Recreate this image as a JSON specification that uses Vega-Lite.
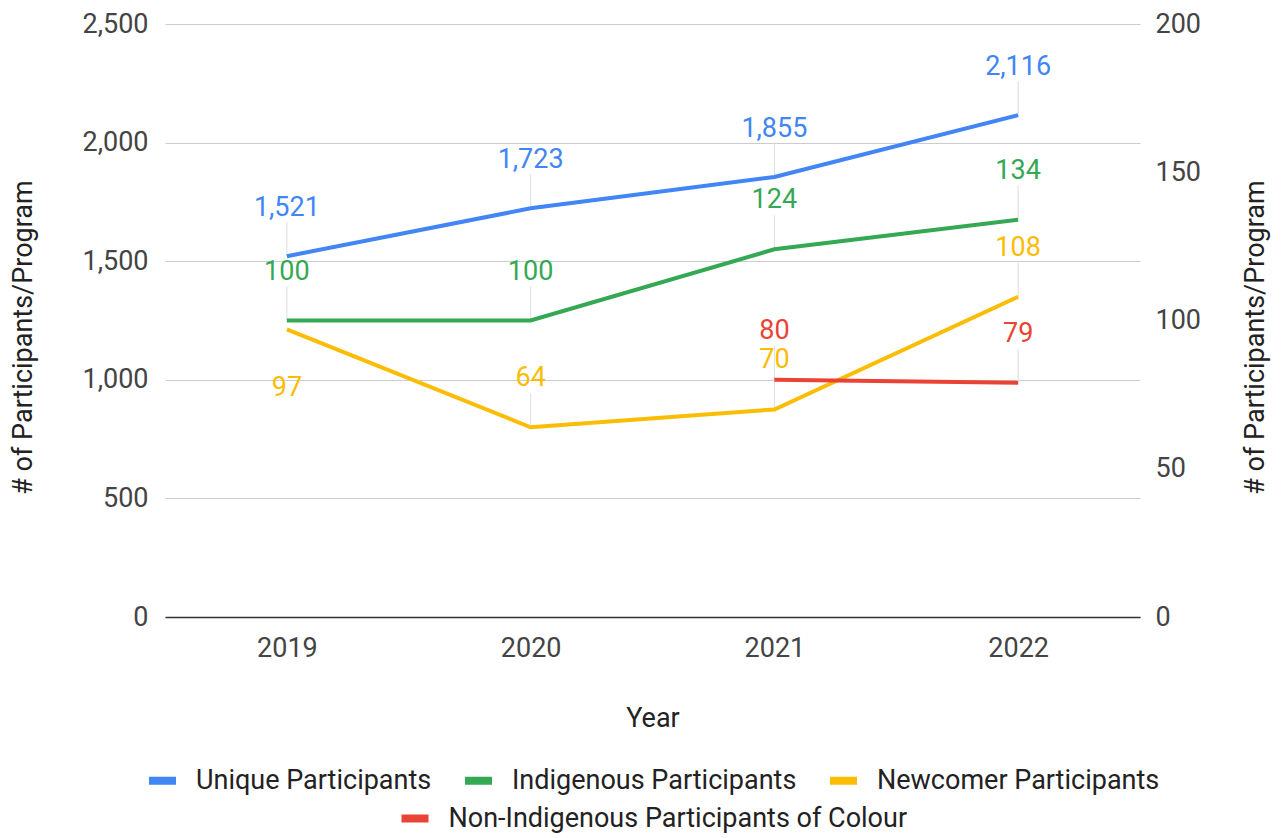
{
  "$schema": "https://vega.github.io/schema/vega-lite/v6.json",
  "width": 975,
  "height": 593,
  "autosize": {"type": "none"},
  "padding": {"left": 165, "top": 24, "right": 141, "bottom": 221},
  "background": "white",
  "config": {
    "font": "Roboto",
    "view": {"stroke": null},
    "axis": {
      "labelFont": "Roboto",
      "labelFontSize": 27,
      "labelColor": "#444444",
      "titleFont": "Roboto",
      "titleFontSize": 27,
      "titleFontWeight": "normal",
      "titleColor": "#222222",
      "tickSize": 0,
      "domain": false,
      "gridColor": "#cccccc",
      "gridWidth": 1.2
    },
    "legend": {
      "orient": "bottom",
      "direction": "horizontal",
      "labelFont": "Roboto",
      "labelFontSize": 27,
      "labelColor": "#222222",
      "labelLimit": 800,
      "symbolType": "stroke",
      "symbolStrokeWidth": 8,
      "symbolSize": 729,
      "labelOffset": 16,
      "columnPadding": 17,
      "offset": 32,
      "layout": {"bottom": {"anchor": "middle", "direction": "vertical", "margin": 4, "center": true}}
    }
  },
  "datasets": {
    "d": [
      {"year": "2019", "series": "Unique Participants", "value": 1521},
      {"year": "2020", "series": "Unique Participants", "value": 1723},
      {"year": "2021", "series": "Unique Participants", "value": 1855},
      {"year": "2022", "series": "Unique Participants", "value": 2116},
      {"year": "2019", "series": "Indigenous Participants", "value": 100},
      {"year": "2020", "series": "Indigenous Participants", "value": 100},
      {"year": "2021", "series": "Indigenous Participants", "value": 124},
      {"year": "2022", "series": "Indigenous Participants", "value": 134},
      {"year": "2019", "series": "Newcomer Participants", "value": 97},
      {"year": "2020", "series": "Newcomer Participants", "value": 64},
      {"year": "2021", "series": "Newcomer Participants", "value": 70},
      {"year": "2022", "series": "Newcomer Participants", "value": 108},
      {"year": "2021", "series": "Non-Indigenous Participants of Colour", "value": 80},
      {"year": "2022", "series": "Non-Indigenous Participants of Colour", "value": 79}
    ]
  },
  "data": {"name": "d"},
  "encoding": {
    "x": {
      "field": "year",
      "type": "ordinal",
      "scale": {"type": "point", "padding": 0.5},
      "axis": {
        "title": "Year",
        "labelAngle": 0,
        "labelPadding": 18,
        "titlePadding": 44,
        "domain": true,
        "domainColor": "#333333",
        "domainWidth": 1.5,
        "grid": false
      }
    }
  },
  "layer": [
    {
      "transform": [{"filter": "datum.series === 'Unique Participants'"}],
      "encoding": {
        "y": {
          "field": "value",
          "type": "quantitative",
          "scale": {"domain": [0, 2500], "nice": false},
          "axis": {
            "orient": "left",
            "title": "# of Participants/Program",
            "values": [0, 500, 1000, 1500, 2000, 2500],
            "format": ",d",
            "labelPadding": 17,
            "titlePadding": 44,
            "titleY": 313,
            "grid": true
          }
        }
      },
      "layer": [
        {
          "mark": {"type": "rule", "color": "#dddddd", "strokeWidth": 1, "y2Offset": -34},
          "encoding": {"y2": {"field": "value"}}
        },
        {
          "mark": {"type": "line", "strokeWidth": 4},
          "encoding": {
            "color": {
              "field": "series",
              "type": "nominal",
              "scale": {
                "domain": ["Unique Participants", "Indigenous Participants", "Newcomer Participants"],
                "range": ["#4285F4", "#34A853", "#FBBC04"]
              },
              "legend": {"title": null}
            }
          }
        },
        {
          "mark": {"type": "text", "fontSize": 27, "dy": -48, "baseline": "middle", "font": "Roboto"},
          "encoding": {
            "text": {"field": "value", "type": "quantitative", "format": ",d"},
            "fill": {
              "field": "series",
              "type": "nominal",
              "scale": {
                "domain": ["Unique Participants", "Indigenous Participants", "Newcomer Participants", "Non-Indigenous Participants of Colour"],
                "range": ["#4285F4", "#34A853", "#FBBC04", "#EA4335"]
              },
              "legend": null
            }
          }
        }
      ]
    },
    {
      "transform": [{"filter": "datum.series !== 'Unique Participants'"}],
      "encoding": {
        "y": {
          "field": "value",
          "type": "quantitative",
          "scale": {"domain": [0, 200], "nice": false},
          "axis": {
            "orient": "right",
            "title": "# of Participants/Program",
            "titleAngle": -90,
            "values": [0, 50, 100, 150, 200],
            "labelPadding": 15,
            "titlePadding": 69,
            "titleY": 313,
            "grid": false
          }
        }
      },
      "layer": [
        {
          "transform": [{"filter": "!(datum.series === 'Newcomer Participants' && datum.year === '2019')"}],
          "mark": {"type": "rule", "color": "#dddddd", "strokeWidth": 1, "y2Offset": -34},
          "encoding": {"y2": {"field": "value"}}
        },
        {
          "transform": [{"filter": "datum.series !== 'Non-Indigenous Participants of Colour'"}],
          "mark": {"type": "line", "strokeWidth": 4},
          "encoding": {
            "color": {
              "field": "series",
              "type": "nominal",
              "scale": {
                "domain": ["Unique Participants", "Indigenous Participants", "Newcomer Participants"],
                "range": ["#4285F4", "#34A853", "#FBBC04"]
              },
              "legend": {"title": null}
            }
          }
        },
        {
          "transform": [{"filter": "datum.series === 'Non-Indigenous Participants of Colour'"}],
          "mark": {"type": "line", "strokeWidth": 4},
          "encoding": {
            "stroke": {
              "field": "series",
              "type": "nominal",
              "scale": {
                "domain": ["Non-Indigenous Participants of Colour"],
                "range": ["#EA4335"]
              },
              "legend": {"title": null}
            }
          }
        },
        {
          "transform": [{"filter": "!(datum.series === 'Newcomer Participants' && datum.year === '2019')"}],
          "mark": {"type": "text", "fontSize": 27, "dy": -49, "baseline": "middle", "font": "Roboto"},
          "encoding": {
            "text": {"field": "value", "type": "quantitative", "format": ",d"},
            "fill": {
              "field": "series",
              "type": "nominal",
              "scale": {
                "domain": ["Unique Participants", "Indigenous Participants", "Newcomer Participants", "Non-Indigenous Participants of Colour"],
                "range": ["#4285F4", "#34A853", "#FBBC04", "#EA4335"]
              },
              "legend": null
            }
          }
        },
        {
          "transform": [{"filter": "datum.series === 'Newcomer Participants' && datum.year === '2019'"}],
          "mark": {"type": "text", "fontSize": 27, "dy": 59, "baseline": "middle", "font": "Roboto"},
          "encoding": {
            "text": {"field": "value", "type": "quantitative", "format": ",d"},
            "fill": {
              "field": "series",
              "type": "nominal",
              "scale": {
                "domain": ["Unique Participants", "Indigenous Participants", "Newcomer Participants", "Non-Indigenous Participants of Colour"],
                "range": ["#4285F4", "#34A853", "#FBBC04", "#EA4335"]
              },
              "legend": null
            }
          }
        }
      ]
    }
  ],
  "resolve": {"scale": {"y": "independent"}}
}
